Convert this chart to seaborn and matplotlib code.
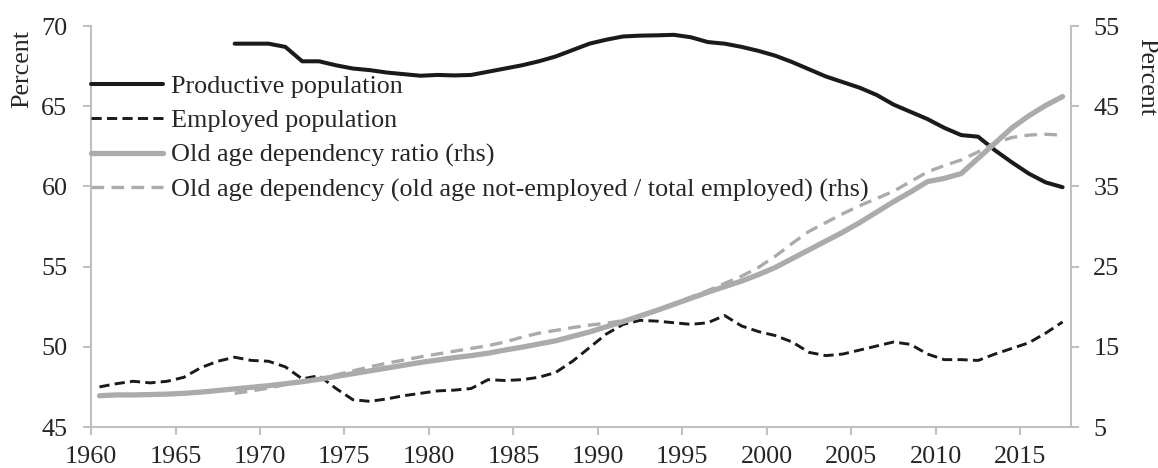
import numpy as np
import pandas as pd
import matplotlib
matplotlib.use("Agg")
import matplotlib.pyplot as plt
import seaborn as sns

# DATA
years_all = list(range(1960, 2018))
years_prod = list(range(1968, 2018))

productive = [68.9, 68.9, 68.9, 68.7, 67.8, 67.8, 67.55, 67.35, 67.25, 67.1,
              67.0, 66.9, 66.95, 66.92, 66.95, 67.15, 67.35, 67.55, 67.8, 68.1,
              68.5, 68.9, 69.15, 69.35, 69.4, 69.42, 69.45, 69.3, 69.0, 68.9,
              68.7, 68.45, 68.15, 67.75, 67.3, 66.85, 66.5, 66.15, 65.7, 65.1,
              64.65, 64.2, 63.65, 63.2, 63.1, 62.25, 61.5, 60.8, 60.25, 59.95]

employed = [47.5, 47.7, 47.85, 47.75, 47.85, 48.1, 48.7, 49.1, 49.35, 49.15,
            49.1, 48.75, 48.0, 48.2, 47.4, 46.7, 46.6, 46.75, 46.95, 47.1,
            47.25, 47.3, 47.4, 47.95, 47.9, 47.95, 48.1, 48.4, 49.1, 49.95,
            50.8, 51.4, 51.65, 51.6, 51.5, 51.4, 51.5, 51.95, 51.3, 50.95,
            50.7, 50.3, 49.65, 49.45, 49.55, 49.8, 50.05, 50.3, 50.15, 49.55,
            49.2, 49.2, 49.15, 49.55, 49.9, 50.25, 50.85, 51.55]

old_age_ratio = [8.9, 9.0, 9.0, 9.05, 9.1, 9.2, 9.35, 9.55, 9.75, 9.95,
                 10.15, 10.4, 10.65, 10.95, 11.3, 11.65, 12.0, 12.35, 12.7, 13.05,
                 13.35, 13.65, 13.9, 14.2, 14.6, 14.95, 15.35, 15.75, 16.3, 16.85,
                 17.5, 18.15, 18.85, 19.55, 20.3, 21.05, 21.8, 22.5, 23.2, 24.0,
                 24.9, 26.0, 27.1, 28.2, 29.3, 30.5, 31.8, 33.1, 34.3, 35.6,
                 36.0, 36.6, 38.5, 40.4, 42.3, 43.8, 45.1, 46.2]

old_age_not_emp = [9.2, 9.5, 9.85, 10.3, 10.7, 11.0, 11.5, 12.0, 12.5, 12.95,
                   13.35, 13.75, 14.1, 14.45, 14.8, 15.15, 15.6, 16.2, 16.7, 17.05,
                   17.4, 17.7, 17.95, 18.25, 18.9, 19.6, 20.4, 21.2, 22.0, 22.9,
                   23.8, 24.9, 26.3, 27.9, 29.4, 30.5, 31.6, 32.6, 33.5, 34.4,
                   35.6, 36.8, 37.6, 38.3, 39.3, 40.4, 41.1, 41.4, 41.5, 41.4]

labels = ["Productive population",
          "Employed population",
          "Old age dependency ratio (rhs)",
          "Old age dependency (old age not-employed / total employed) (rhs)"]

# annual values plotted at mid-year
df_all = pd.DataFrame({"year": np.array(years_all) + 0.5,
                       "employed": employed,
                       "ratio": old_age_ratio})
df_prod = pd.DataFrame({"year": np.array(years_prod) + 0.5,
                        "productive": productive,
                        "not_emp": old_age_not_emp})

FS = 18.8
sns.set_style("white")
plt.rcParams["font.family"] = ["Liberation Serif", "DejaVu Serif"]
plt.rcParams["font.size"] = FS

BLACK = "#1a1a1a"
GREY = "#ababad"
SPINE = "#c0c0c0"

fig = plt.figure(figsize=(11.58, 4.68), dpi=100)
ax = fig.add_axes([0.0786, 0.0876, 0.8463, 0.8568])
ax2 = ax.twinx()

sns.lineplot(data=df_prod, x="year", y="productive", ax=ax, color=BLACK,
             linewidth=2.9, label=labels[0], legend=False)
sns.lineplot(data=df_all, x="year", y="employed", ax=ax, color=BLACK,
             linewidth=2.1, label=labels[1], legend=False)
ax.lines[-1].set_dashes([3.5, 1.8])
sns.lineplot(data=df_all, x="year", y="ratio", ax=ax2, color=GREY,
             linewidth=3.8, label=labels[2], legend=False)
sns.lineplot(data=df_prod, x="year", y="not_emp", ax=ax2, color=GREY,
             linewidth=2.4, label=labels[3], legend=False)
ax2.lines[-1].set_dashes([3.8, 2.2])

ax.set_xlim(1960, 2018)
ax.set_ylim(45, 70)
ax2.set_ylim(5, 55)
ax.set_xticks(range(1960, 2016, 5))
ax.set_yticks(range(45, 71, 5))
ax2.set_yticks(range(5, 56, 10))

for a in (ax, ax2):
    for s in a.spines.values():
        s.set_color(SPINE)
        s.set_linewidth(1.5)
    a.spines["top"].set_visible(False)
    a.set_xlabel("")
ax.spines["right"].set_visible(False)
ax2.spines["left"].set_visible(False)
ax2.spines["bottom"].set_visible(False)

ax.tick_params(axis="y", length=6, width=1.5, color=SPINE, pad=11, left=True,
               labelsize=FS)
ax.tick_params(axis="x", length=6, width=1.5, color=SPINE, pad=8, bottom=True,
               labelsize=FS)
ax2.tick_params(axis="y", length=6, width=1.5, color=SPINE, pad=10, right=True,
                labelsize=FS)

ax.set_ylabel("Percent", fontsize=FS)
ax.yaxis.set_label_coords(-0.059, 0.893)
ax2.set_ylabel("Percent", fontsize=FS, rotation=270, va="center")
ax2.yaxis.set_label_coords(1.077, 0.873)

handles = ax.lines[:2] + ax2.lines[:2]
leg = ax2.legend(handles, labels, loc="upper left", bbox_to_anchor=(0.0, 0.878),
                 frameon=False, handlelength=2.75, handletextpad=0.3,
                 labelspacing=0.42, borderaxespad=0, borderpad=0,
                 fontsize=FS)

fig.savefig("out.png", dpi=100)
